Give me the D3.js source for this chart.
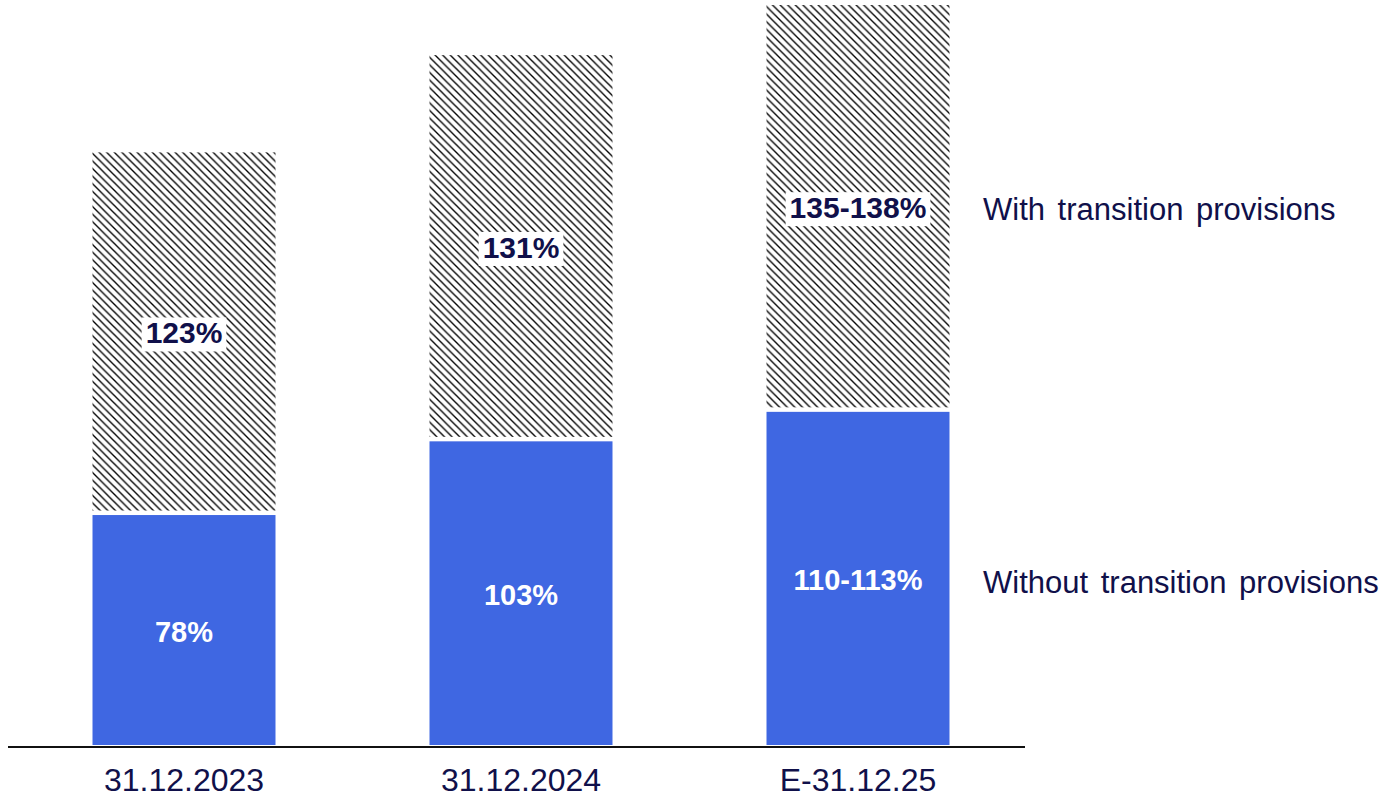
<!DOCTYPE html>
<html>
<head>
<meta charset="utf-8">
<script src="https://cdn.jsdelivr.net/npm/d3@7/dist/d3.min.js"></script>
<style>
  html, body { margin: 0; padding: 0; background: #ffffff; }
  svg { display: block; }
  text { font-family: "Liberation Sans", Arial, sans-serif; }
</style>
</head>
<body>
<svg id="chart" width="1389" height="797"></svg>
<script>
// Capital ratio by reporting date
const categories = ["31.12.2023", "31.12.2024", "E-31.12.25"];
const withoutValues = [78, 103, 113];      // without transition provisions
const withValues = [123, 131, 138];        // additional segment, with transition provisions
const withoutLabels = ["78%", "103%", "110-113%"];
const withLabels = ["123%", "131%", "135-138%"];
const seriesNames = ["With transition provisions", "Without transition provisions"];

const navy = "#10104a";
const blue = "#3f67e2";

const svg = d3.select("#chart");
const defs = svg.append("defs");

// Dense downward diagonal hatch
const hs = 7.6;
const pat = defs.append("pattern")
  .attr("id", "hatch")
  .attr("patternUnits", "userSpaceOnUse")
  .attr("width", hs).attr("height", hs);
pat.append("rect").attr("width", hs).attr("height", hs).attr("fill", "#fff");
pat.append("path")
  .attr("d", `M${-hs/2},${hs/2} L${hs/2},${hs*1.5} M0,0 L${hs},${hs} M${hs/2},${-hs/2} L${hs*1.5},${hs/2}`)
  .attr("stroke", "#000").attr("stroke-width", 1.35);

const x = d3.scaleBand()
  .domain(categories)
  .range([15.5, 1026.5])
  .paddingInner(0.457)
  .paddingOuter(0.2285);

const y = d3.scaleLinear()
  .domain([0, 251])
  .range([745, 5]);

const rows = categories.map((c, i) => ({
  cat: c,
  base: withoutValues[i],
  top: withoutValues[i] + withValues[i],
  baseLabel: withoutLabels[i],
  topLabel: withLabels[i]
}));

const gap = 4.5;

// Bars without transition provisions
svg.append("g").selectAll("rect")
  .data(rows).join("rect")
  .attr("x", d => x(d.cat))
  .attr("width", x.bandwidth())
  .attr("y", d => y(d.base))
  .attr("height", d => y(0) - y(d.base))
  .attr("fill", blue);

// Hatched segment stacked on top
svg.append("g").selectAll("rect")
  .data(rows).join("rect")
  .attr("x", d => x(d.cat))
  .attr("width", x.bandwidth())
  .attr("y", d => y(d.top))
  .attr("height", d => y(d.base) - y(d.top) - gap)
  .attr("fill", "url(#hatch)");

// Value labels in the blue segments
svg.append("g").selectAll("text")
  .data(rows).join("text")
  .attr("x", d => x(d.cat) + x.bandwidth() / 2)
  .attr("y", d => (y(0) + y(d.base)) / 2)
  .attr("dy", "0.4em")
  .attr("text-anchor", "middle")
  .attr("font-size", 29)
  .attr("font-weight", "bold")
  .attr("fill", "#fff")
  .text(d => d.baseLabel);

// Value labels in the hatched segments, on white boxes
const topG = svg.append("g").selectAll("g")
  .data(rows).join("g")
  .attr("transform", d => `translate(${x(d.cat) + x.bandwidth() / 2},${(y(d.base) - gap + y(d.top)) / 2})`);
topG.append("rect").attr("fill", "#fff");
topG.append("text")
  .attr("dy", "0.4em")
  .attr("text-anchor", "middle")
  .attr("font-size", 30)
  .attr("font-weight", "bold")
  .attr("fill", navy)
  .text(d => d.topLabel);
topG.each(function() {
  const g = d3.select(this);
  const b = g.select("text").node().getBBox();
  g.select("rect")
    .attr("x", b.x - 4).attr("y", b.y + 1)
    .attr("width", b.width + 8).attr("height", b.height + 1);
});

// Baseline
svg.append("line")
  .attr("x1", 8).attr("x2", 1025)
  .attr("y1", y(0) + 2).attr("y2", y(0) + 2)
  .attr("stroke", "#111").attr("stroke-width", 2);

// Category axis
const axis = svg.append("g")
  .attr("transform", `translate(0,${y(0) + 3})`)
  .call(d3.axisBottom(x).tickSize(0).tickPadding(20));
axis.select(".domain").remove();
axis.selectAll("text")
  .attr("font-family", "'Liberation Sans', Arial, sans-serif")
  .attr("font-size", 32)
  .attr("fill", navy);

// Series labels beside the last bar
const last = rows[rows.length - 1];
const legendY = [
  (y(last.base) - gap + y(last.top)) / 2,
  (y(0) + y(last.base)) / 2
];
svg.append("g").selectAll("text")
  .data(seriesNames).join("text")
  .attr("x", 983)
  .attr("y", (d, i) => legendY[i])
  .attr("dy", "0.46em")
  .attr("font-size", 31)
  .attr("word-spacing", 4)
  .attr("fill", navy)
  .text(d => d);
</script>
</body>
</html>
